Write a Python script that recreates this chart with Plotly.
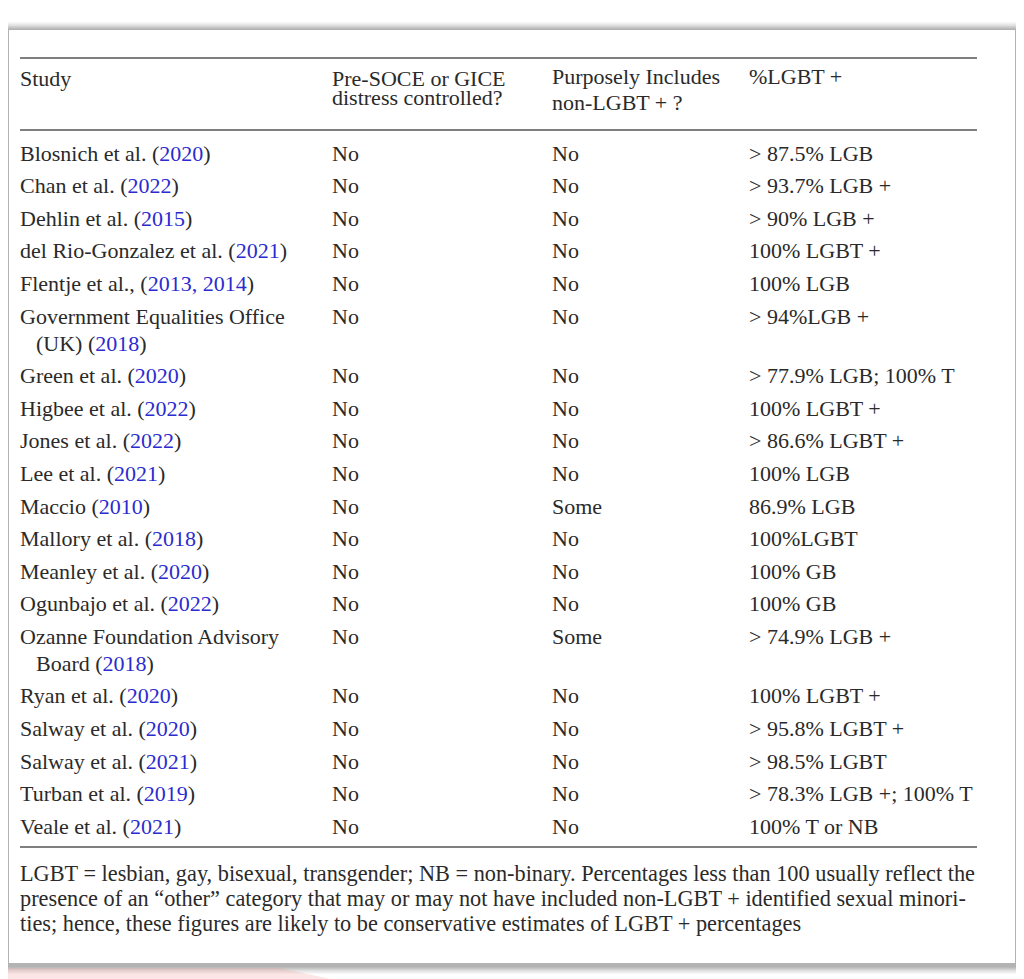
import plotly.graph_objects as go

# ---------------- data ----------------
header_study = ["Study"]
header_pre = ["Pre-SOCE or GICE", "distress controlled?"]
header_purp = ["Purposely Includes", "non-LGBT + ?"]
header_pct = ["%LGBT +"]

# study names: parts; a part starting with '|' begins a new (indented) line;
# parts starting with a digit are rendered as citation links
study_names = [
    ["Blosnich et al. (", "2020", ")"],
    ["Chan et al. (", "2022", ")"],
    ["Dehlin et al. (", "2015", ")"],
    ["del Rio-Gonzalez et al. (", "2021", ")"],
    ["Flentje et al., (", "2013, 2014", ")"],
    ["Government Equalities Office", "|(UK) (", "2018", ")"],
    ["Green et al. (", "2020", ")"],
    ["Higbee et al. (", "2022", ")"],
    ["Jones et al. (", "2022", ")"],
    ["Lee et al. (", "2021", ")"],
    ["Maccio (", "2010", ")"],
    ["Mallory et al. (", "2018", ")"],
    ["Meanley et al. (", "2020", ")"],
    ["Ogunbajo et al. (", "2022", ")"],
    ["Ozanne Foundation Advisory", "|Board (", "2018", ")"],
    ["Ryan et al. (", "2020", ")"],
    ["Salway et al. (", "2020", ")"],
    ["Salway et al. (", "2021", ")"],
    ["Turban et al. (", "2019", ")"],
    ["Veale et al. (", "2021", ")"],
]
pre_soce = ["No"] * 20
purposely = ["No", "No", "No", "No", "No", "No", "No", "No", "No", "No",
             "Some", "No", "No", "No", "Some", "No", "No", "No", "No", "No"]
pct_lgbt = ["> 87.5% LGB", "> 93.7% LGB +", "> 90% LGB +", "100% LGBT +",
            "100% LGB", "> 94%LGB +", "> 77.9% LGB; 100% T", "100% LGBT +",
            "> 86.6% LGBT +", "100% LGB", "86.9% LGB", "100%LGBT", "100% GB",
            "100% GB", "> 74.9% LGB +", "100% LGBT +", "> 95.8% LGBT +",
            "> 98.5% LGBT", "> 78.3% LGB +; 100% T", "100% T or NB"]
footnote = [
    "LGBT = lesbian, gay, bisexual, transgender; NB = non-binary. Percentages less than 100 usually reflect the",
    "presence of an \u201cother\u201d category that may or may not have included non-LGBT + identified sexual minori-",
    "ties; hence, these figures are likely to be conservative estimates of LGBT + percentages",
]

# ---------------- style ----------------
FONT = "Liberation Serif, Times New Roman, serif"
FS = 22
TXT = "#2a2a2a"
LINK = "#2b2bd0"
COLX = [18, 330, 550, 747]

fig = go.Figure()
fig.add_trace(go.Scatter(x=[8, 1024], y=[8, 979], mode="markers",
                         marker=dict(opacity=0), hoverinfo="skip", showlegend=False))

shapes = []
ann = []

# background shadow + panel
for i, a in enumerate([0.03, 0.04, 0.05, 0.06, 0.07, 0.08]):
    d = 8 - i * 1.3
    shapes.append(dict(type="rect", xref="x", yref="y", x0=8 - d, x1=1015 + d,
                       y0=30 - d, y1=963 + d + 3, fillcolor=f"rgba(0,0,0,{a})",
                       line=dict(width=0), layer="below"))
shapes.append(dict(type="rect", xref="x", yref="y", x0=9, x1=1015, y0=30, y1=963,
                   fillcolor="white", line=dict(width=0), layer="below"))
# faint pink strip bottom-left
shapes.append(dict(type="path", xref="x", yref="y",
                   path="M 0 968 L 280 968 L 330 979 L 0 979 Z",
                   fillcolor="rgba(240,140,140,0.22)", line=dict(width=0), layer="below"))

# rules
for yy in [58, 130, 847]:
    shapes.append(dict(type="line", xref="x", yref="y", x0=20, x1=977, y0=yy, y1=yy,
                       line=dict(color="#555555", width=1.6)))


def txt(x, y, s, size=FS):
    ann.append(dict(x=x, y=y, xref="x", yref="y", text=s, showarrow=False,
                    xanchor="left", yanchor="middle",
                    font=dict(family=FONT, size=size, color=TXT)))


# headers
txt(COLX[0], 78, header_study[0])
txt(COLX[1], 78, header_pre[0])
txt(COLX[1], 97, header_pre[1])
txt(COLX[2], 76, header_purp[0])
txt(COLX[2], 102, header_purp[1])
txt(COLX[3], 76, header_pct[0])

# body rows
y = 153
for i in range(len(study_names)):
    parts = study_names[i]
    lines = [[]]
    for p in parts:
        if p.startswith("|"):
            lines.append([p[1:]])
        else:
            lines[-1].append(p)
    for k, ln in enumerate(lines):
        s = ""
        for p in ln:
            if p and p[0].isdigit():
                s += f'<span style="color:{LINK}">{p}</span>'
            else:
                s += p
        txt(COLX[0] + (16 if k > 0 else 0), y + k * 27, s)
    txt(COLX[1], y, pre_soce[i])
    txt(COLX[2], y, purposely[i])
    txt(COLX[3], y, pct_lgbt[i])
    y += 32.65 + 26.5 * (len(lines) - 1)

# footnote
for k, line in enumerate(footnote):
    txt(COLX[0], [873, 898, 923][k], line, size=22.3)

# the page body has an 8px margin, so the figure spans page pixels 8..1024 / 8..979
fig.update_layout(
    width=1016, height=971, margin=dict(l=0, r=0, t=0, b=0),
    paper_bgcolor="white", plot_bgcolor="white",
    xaxis=dict(range=[8, 1024], visible=False, fixedrange=True),
    yaxis=dict(range=[979, 8], visible=False, fixedrange=True),
    shapes=shapes, annotations=ann, showlegend=False,
)
fig.write_html("out.html")
